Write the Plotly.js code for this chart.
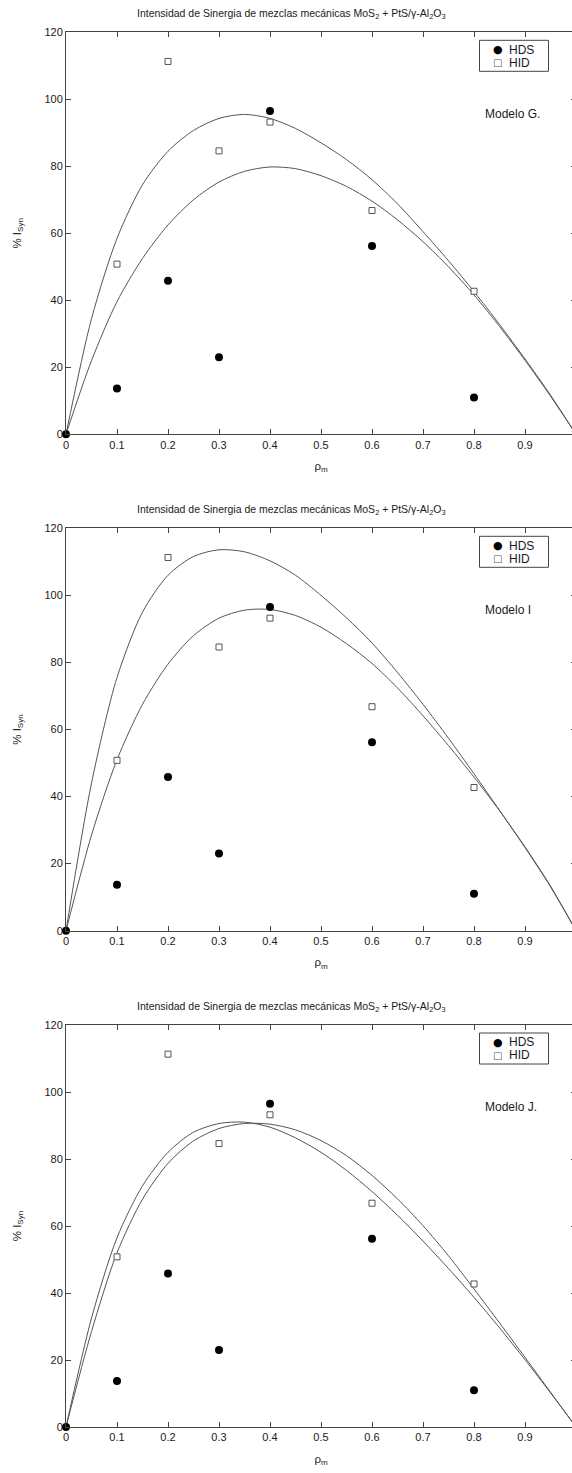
<!DOCTYPE html>
<html>
<head>
<meta charset="utf-8">
<script src="https://cdn.plot.ly/plotly-3.0.1.min.js"></script>
<style>
html,body{margin:0;padding:0;overflow:hidden;background:#fff;width:572px;height:1473px;}
#chart{width:576px;height:1473px;}
</style>
</head>
<body>
<div id="chart"></div>
<script>
// Experimental points (same in all three panels)
const rhoHDS = [0, 0.1, 0.2, 0.3, 0.4, 0.6, 0.8];
const synHDS = [0, 13.7, 45.8, 23.0, 96.5, 56.2, 11.0];
const rhoHID = [0.1, 0.2, 0.3, 0.4, 0.6, 0.8];
const synHID = [50.8, 111.3, 84.6, 93.2, 66.8, 42.7];

// Model curves
const rhoCurve = [0, 0.05, 0.1, 0.15, 0.2, 0.25, 0.3, 0.35, 0.4, 0.45, 0.5, 0.55, 0.6, 0.65, 0.7, 0.75, 0.8, 0.85, 0.9, 0.95, 1.0];
const modelG_a = [0, 34.5, 58.5, 74.5, 84.5, 90.7, 94.3, 95.5, 94.3, 91.3, 87, 82, 76, 68.8, 60.5, 51.8, 42.6, 32.8, 22.5, 11.7, 0];
const modelG_b = [0, 22, 39.6, 52.5, 62.5, 70, 75.3, 78.5, 79.8, 79.3, 77.2, 74, 69.6, 64, 57.5, 50, 41.6, 32.2, 22.1, 11.4, 0];
const modelI_a = [0, 44, 75.5, 95, 106, 111.6, 113.6, 113, 110.3, 106, 100, 93.3, 85.8, 77, 67.5, 57.4, 46.8, 35.9, 24.8, 13.1, 0];
const modelI_b = [0, 28.5, 51, 67.5, 79.5, 88, 93.2, 95.6, 95.8, 94, 90.5, 85.6, 79.7, 72.4, 64.1, 55.2, 45.8, 35.8, 25, 13.3, 0];
const modelJ_a = [0, 32.5, 56.5, 72, 82, 88, 90.6, 91, 89.5, 86.3, 82, 76.6, 70.3, 63.2, 55.5, 47.3, 38.7, 29.6, 20.1, 10.2, 0];
const modelJ_b = [0, 28.5, 52, 68, 78.7, 85.4, 89.1, 90.6, 90.4, 88.7, 85.5, 81, 75.1, 68.1, 60.1, 51.1, 41.2, 31.1, 20.8, 10.4, 0];

const seriesNames = ["HDS", "HID"];
const panelLabels = ["Modelo G.", "Modelo I", "Modelo J."];
const curves = [[modelG_a, modelG_b], [modelI_a, modelI_b], [modelJ_a, modelJ_b]];
const xTicks = [0, 0.1, 0.2, 0.3, 0.4, 0.5, 0.6, 0.7, 0.8, 0.9];
const xTickText = ["0", "0.1", "0.2", "0.3", "0.4", "0.5", "0.6", "0.7", "0.8", "0.9"];
const yTicks = [0, 20, 40, 60, 80, 100, 120];

const chartTitle = "Intensidad de Sinergia de mezclas mecánicas MoS<sub>2</sub> + PtS/γ-Al<sub>2</sub>O<sub>3</sub>";

const H = 1473, L = 66, PW = 510;
const FONT = "Liberation Sans, Arial, sans-serif";
const AX = "#444";
const TXT = "#1a1a1a";
// plot-area pixel tops/bottoms
const tops = [32.3, 528.3, 1025];
const bots = [434.3, 930.7, 1427];
const px = v => (v - L) / PW;      // pixel x -> paper x
const py = v => 1 - v / H;         // pixel y -> paper y

const traces = [];
const layout = {
  width: 576, height: H,
  margin: {l: L, r: 0, t: 0, b: 0},
  paper_bgcolor: "#fff", plot_bgcolor: "#fff",
  font: {family: FONT, size: 11, color: TXT},
  annotations: [], shapes: [],
  showlegend: false
};

for (let i = 0; i < 3; i++) {
  const sfx = i === 0 ? "" : String(i + 1);
  const xa = "x" + sfx, ya = "y" + sfx;
  curves[i].forEach(c => traces.push({
    x: rhoCurve, y: c, xaxis: xa, yaxis: ya, type: "scatter", mode: "lines",
    line: {color: "#555", width: 1, shape: "spline", smoothing: 0.8},
    hoverinfo: "skip"
  }));
  traces.push({
    x: rhoHDS, y: synHDS, xaxis: xa, yaxis: ya, type: "scatter", mode: "markers",
    name: seriesNames[0], cliponaxis: false,
    marker: {symbol: "circle", size: 8, color: "#000", line: {width: 0}}
  });
  traces.push({
    x: rhoHID, y: synHID, xaxis: xa, yaxis: ya, type: "scatter", mode: "markers",
    name: seriesNames[1],
    marker: {symbol: "square", size: 6, color: "#fff", line: {width: 1, color: "#555"}}
  });

  const dom = [py(bots[i]), py(tops[i])];
  layout["xaxis" + sfx] = {
    anchor: ya, domain: [0, 1], range: [0, 1],
    tickvals: xTicks, ticktext: xTickText,
    ticks: "inside", ticklen: 5, tickcolor: AX, tickwidth: 1,
    showline: true, linecolor: AX, linewidth: 1, mirror: "ticks",
    showgrid: false, zeroline: false,
    tickfont: {family: FONT, size: 11, color: TXT},
    title: {text: "ρ<sub>m</sub>", font: {family: FONT, size: 11.5, color: TXT}, standoff: 12}
  };
  layout["yaxis" + sfx] = {
    anchor: xa, domain: dom, range: [0, 120],
    tickvals: yTicks,
    ticks: "inside", ticklen: 5, tickcolor: AX, tickwidth: 1,
    showline: true, linecolor: AX, linewidth: 1, mirror: "ticks",
    showgrid: false, zeroline: false,
    tickfont: {family: FONT, size: 11, color: TXT},
    title: {text: "% I<sub>Syn</sub>", font: {family: FONT, size: 11.5, color: TXT}, standoff: 20}
  };

  // legend box (drawn as in the reference: compact, top right)
  const t0 = tops[i];
  layout.shapes.push({
    type: "rect", xref: "paper", yref: "paper",
    x0: px(479.5), x1: px(548.5), y0: py(t0 + 8), y1: py(t0 + 39),
    line: {color: AX, width: 1}, fillcolor: "#fff", layer: "above"
  });
  const keyGlyph = ["●", "□"];
  const keySize = [11, 10];
  const keyColor = ["#000", "#555"];
  for (let k = 0; k < 2; k++) {
    const yy = py(t0 + 17.3 + 13 * k);
    layout.annotations.push({
      xref: "paper", yref: "paper", x: px(497.5), y: yy,
      xanchor: "center", yanchor: "middle", showarrow: false,
      text: keyGlyph[k], font: {family: "DejaVu Sans", size: keySize[k], color: keyColor[k]}
    });
    layout.annotations.push({
      xref: "paper", yref: "paper", x: px(507), y: yy,
      xanchor: "left", yanchor: "middle", showarrow: false,
      text: seriesNames[k], font: {family: FONT, size: 12, color: TXT}
    });
  }

  layout.annotations.push({
    xref: "paper", yref: "paper",
    x: px(291), y: py(t0 - 18),
    xanchor: "center", yanchor: "middle",
    text: chartTitle, showarrow: false,
    font: {family: FONT, size: 10.5, color: TXT}
  });
  layout.annotations.push({
    xref: "paper", yref: "paper",
    x: px(483), y: py(t0 + 82),
    xanchor: "left", yanchor: "middle",
    text: panelLabels[i], showarrow: false,
    font: {family: FONT, size: 12, color: TXT}
  });
}

Plotly.newPlot("chart", traces, layout, {staticPlot: true, displayModeBar: false});
</script>
</body>
</html>
